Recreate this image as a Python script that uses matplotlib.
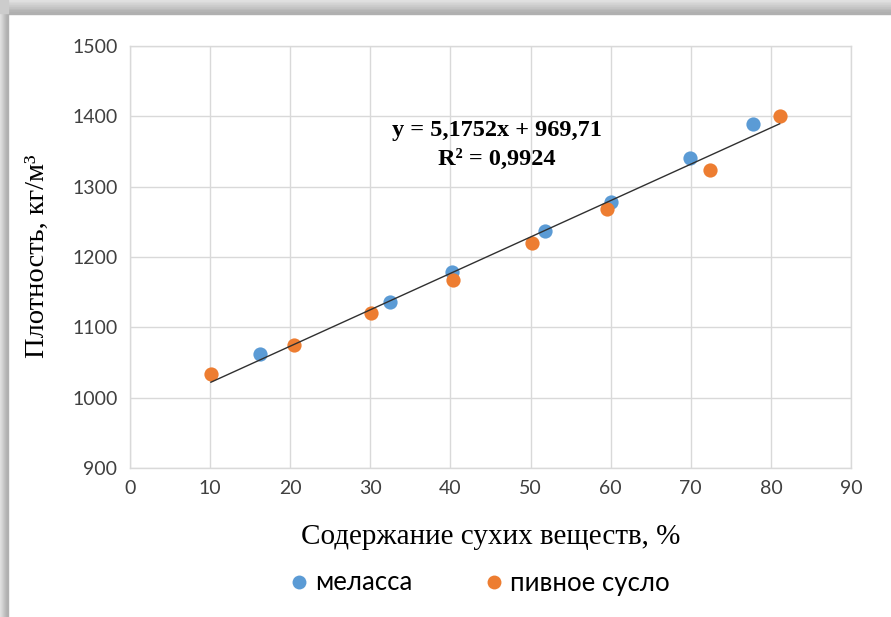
import numpy as np
import matplotlib
matplotlib.use("Agg")
import matplotlib.pyplot as plt
from matplotlib.patches import Rectangle
from matplotlib.lines import Line2D

# Dry-matter content (%) and density (kg/m3)
molasses_x = [16.2, 32.5, 40.2, 51.8, 60.0, 69.9, 77.8]
molasses_y = [1062, 1136, 1179, 1237, 1278, 1341, 1389]

wort_x = [10.1, 20.5, 30.1, 40.3, 50.2, 59.6, 72.4, 81.1]
wort_y = [1033, 1075, 1120, 1167, 1220, 1268, 1324, 1400]

# Linear trend line coefficients
slope = 5.1752
intercept = 969.71
r_squared = 0.9924

x_ticks = [0, 10, 20, 30, 40, 50, 60, 70, 80, 90]
y_ticks = [900, 1000, 1100, 1200, 1300, 1400, 1500]

series_names = ["меласса", "пивное сусло"]
blue = "#5B9BD5"
orange = "#ED7D31"
grid_c = "#D9D9D9"

W, H = 891, 617
fig = plt.figure(figsize=(W / 100, H / 100), dpi=100)
fig.patch.set_facecolor("white")

# Soft shadow along the top and left edges of the chart frame
shade = [0.88, 0.86, 0.83, 0.80, 0.77, 0.74, 0.71, 0.69]
for i, g in enumerate(shade):
    fig.patches.append(Rectangle((0, 1 - (i + 1) * 1.7 / H), 1, 1.7 / H,
                                 transform=fig.transFigure, color=str(g), zorder=0))
for i, g in enumerate(shade):
    fig.patches.append(Rectangle((i / W, 0), 1 / W, 1 - 13 / H,
                                 transform=fig.transFigure, color=str(g), zorder=0))
fig.patches.append(Rectangle((0, 1 - 13 / H), 8 / W, 13 / H,
                             transform=fig.transFigure, color="0.80", zorder=0))

left, right, top, bottom = 130, 851, 46, 468
ax = fig.add_axes([left / W, 1 - bottom / H, (right - left) / W, (bottom - top) / H])
ax.set_xlim(0, 90)
ax.set_ylim(900, 1500)
ax.set_xticks(x_ticks)
ax.set_yticks(y_ticks)
ax.grid(True, color=grid_c, linewidth=1)
ax.set_axisbelow(True)
for s in ax.spines.values():
    s.set_color(grid_c)
    s.set_linewidth(1)
ax.tick_params(length=0, labelsize=14, colors="#404040", pad=9)
for lab in ax.get_xticklabels() + ax.get_yticklabels():
    lab.set_family("Lato")
    lab.set_color("#404040")

ax.scatter(molasses_x, molasses_y, s=105, color=blue, zorder=3, linewidths=0)
ax.scatter(wort_x, wort_y, s=105, color=orange, zorder=3, linewidths=0)

all_x = molasses_x + wort_x
xs = np.array([min(all_x), max(all_x)])
ax.plot(xs, slope * xs + intercept, color="#303030", linewidth=1, zorder=4)

eq = f"y = {slope:.4f}x + {intercept:.2f}".replace(".", ",")
r2 = f"R² = {r_squared:.4f}".replace(".", ",")
ax.text(45.8, 1380, eq, ha="center", va="center", fontsize=17.5,
        fontweight="bold", family="Liberation Serif", zorder=5)
ax.text(45.8, 1339, r2, ha="center", va="center", fontsize=17.5,
        fontweight="bold", family="Liberation Serif", zorder=5)

fig.text((left + right) / 2 / W, 1 - 537 / H, "Содержание сухих веществ, %",
         ha="center", va="center", fontsize=21, family="Liberation Serif")
fig.text(37 / W, 1 - 256 / H, "Плотность, кг/м³", rotation=90,
         ha="center", va="center", fontsize=20.5, family="Liberation Serif")

handles = [Line2D([], [], marker="o", linestyle="none", markersize=10,
                  markerfacecolor=c, markeredgewidth=0) for c in (blue, orange)]
fig.legend(handles, series_names, loc="center", bbox_to_anchor=(478 / W, 1 - 583 / H),
           ncol=2, frameon=False, prop={"family": "Lato", "size": 18.5},
           handletextpad=0.1, columnspacing=2.7, handlelength=1.0)

fig.savefig("out.png", dpi=100)
